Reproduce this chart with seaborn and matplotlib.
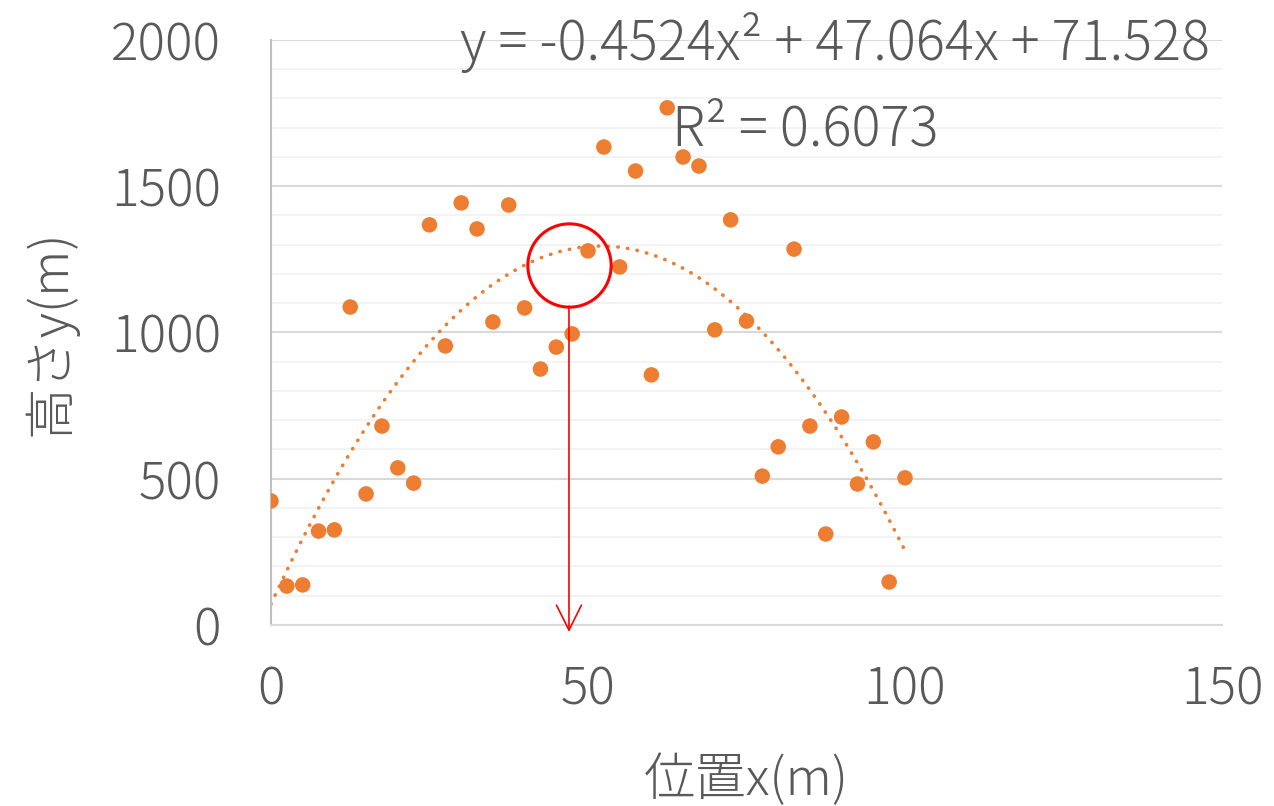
import numpy as np
import pandas as pd
import matplotlib
matplotlib.use("Agg")
import matplotlib.pyplot as plt
import seaborn as sns

# data
pos_x = [0, 2.5, 5, 7.5, 10, 12.5, 15, 17.5, 20, 22.5, 25, 27.5, 30, 32.5, 35,
         37.5, 40, 42.5, 45, 47.5, 50, 52.5, 55, 57.5, 60, 62.5, 65, 67.5, 70,
         72.5, 75, 77.5, 80, 82.5, 85, 87.5, 90, 92.5, 95, 97.5, 100]
height_y = [424, 133, 137, 321, 325, 1087, 448, 680, 537, 485, 1368, 954, 1443,
            1354, 1036, 1436, 1084, 875, 950, 995, 1279, 1634, 1224, 1552, 855,
            1768, 1600, 1569, 1009, 1385, 1039, 509, 609, 1285, 680, 311, 711,
            482, 626, 147, 503]

# trendline coefficients as shown on the chart
coef = [-0.4524, 47.064, 71.528]
r2_text = "R² = 0.6073"
eq_text = "y = -0.4524x² + 47.064x + 71.528"

# marked point and arrow
mark_x = 47.0
mark_y = 1232

df = pd.DataFrame({"x": pos_x, "y": height_y})

sns.set_style("white")
plt.rcParams["font.family"] = ["Noto Sans CJK JP", "DejaVu Sans"]
plt.rcParams["font.weight"] = "light"
plt.rcParams["axes.labelweight"] = "light"

text_col = "#595959"
orange = "#ED7D31"
fs = 37

fig = plt.figure(figsize=(12.74, 8.06), dpi=100)
ax = fig.add_axes([0.2127, 0.2246, 0.9592 - 0.2127, 0.9504 - 0.2246])

# gridlines
ax.set_yticks(np.arange(0, 2001, 500))
ax.set_yticks(np.arange(0, 2001, 100), minor=True)
ax.yaxis.grid(True, which="minor", color="#f2f2f2", lw=1.3)
ax.yaxis.grid(True, which="major", color="#d9d9d9", lw=1.5)
ax.set_axisbelow(True)

# trendline
tx = np.linspace(0, 100, 200)
ty = np.polyval(coef, tx)
ax.plot(tx, ty, color=orange, lw=2.6, linestyle=(0, (0.1, 2.6)),
        dash_capstyle="round", zorder=2)

sns.scatterplot(data=df, x="x", y="y", ax=ax, color=orange, s=125,
                edgecolor="none", zorder=3)

# red circle and arrow
ax.plot([mark_x], [mark_y], marker="o", markersize=60, markerfacecolor="none",
        markeredgecolor="#FF0000", markeredgewidth=2.2, zorder=4)
ax.annotate("", xy=(mark_x, -24), xytext=(mark_x, 1090),
            arrowprops=dict(arrowstyle="->,head_length=0.9,head_width=0.45",
                            color="#FF0000", lw=1.2, shrinkA=0, shrinkB=0,
                            mutation_scale=20),
            annotation_clip=False, zorder=5)

ax.set_xlim(0, 150)
ax.set_ylim(0, 2000)
ax.set_xticks([0, 50, 100, 150])

for s in ["top", "right"]:
    ax.spines[s].set_visible(False)
ax.spines["left"].set_color("#bfbfbf")
ax.spines["left"].set_linewidth(1.5)
ax.spines["bottom"].set_color("#d9d9d9")
ax.spines["bottom"].set_linewidth(1.5)

ax.tick_params(axis="y", which="major", length=12, width=1.5, color="#d9d9d9",
               labelsize=fs, labelcolor=text_col, pad=24)
ax.tick_params(axis="y", which="minor", length=0)
ax.tick_params(axis="x", which="major", length=12, width=1.5, color="#bfbfbf",
               labelsize=fs, labelcolor=text_col, pad=16)

ax.set_xlabel("位置x(m)", fontsize=fs, color=text_col, labelpad=27,
              fontweight="light")
ax.set_ylabel("高さy(m)", fontsize=fs, color=text_col, labelpad=24,
              fontweight="light")

ax.text(148.1, 1993, eq_text, fontsize=39, color=text_col,
        ha="right", va="center", zorder=6)
ax.text(84.2, 1692, r2_text, fontsize=39, color=text_col,
        ha="center", va="center", zorder=6)

fig.savefig("out.png", dpi=100)
